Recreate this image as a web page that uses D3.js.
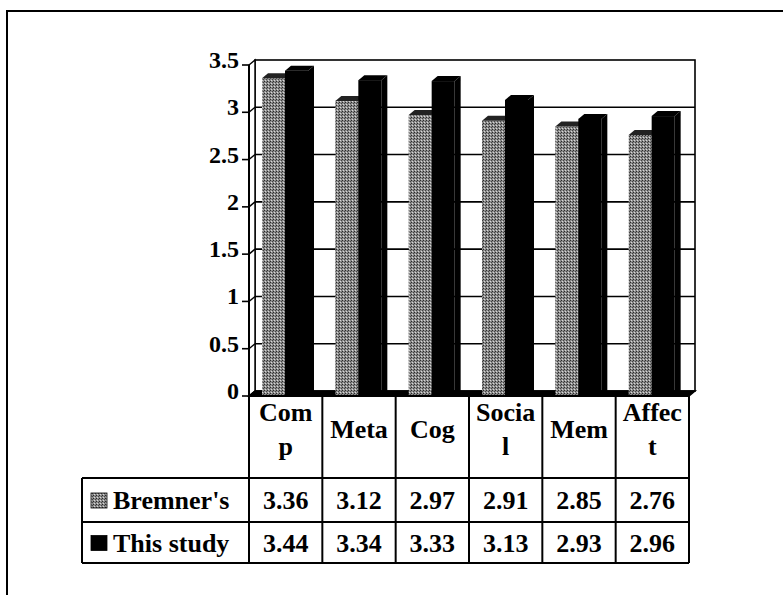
<!DOCTYPE html>
<html>
<head>
<meta charset="utf-8">
<script src="https://cdn.jsdelivr.net/npm/d3@7"></script>
<style>
  html, body { margin: 0; padding: 0; background: #fff; }
  svg { display: block; }
  text { font-family: "Liberation Serif", "Times New Roman", serif; font-weight: bold; fill: #000; }
</style>
</head>
<body>
<svg id="chart" width="783" height="595"></svg>
<script>
// Strategy groups (header cells wrap onto two lines where the column is narrow)
const categories = ["Comp", "Meta", "Cog", "Social", "Mem", "Affect"];
const categoryLines = [["Com", "p"], ["Meta"], ["Cog"], ["Socia", "l"], ["Mem"], ["Affec", "t"]];
const seriesNames = ["Bremner's", "This study"];
const bremnerValues = [3.36, 3.12, 2.97, 2.91, 2.85, 2.76];
const thisStudyValues = [3.44, 3.34, 3.33, 3.13, 2.93, 2.96];
const yTickValues = [0, 0.5, 1, 1.5, 2, 2.5, 3, 3.5];
const yTickLabels = ["0", "0.5", "1", "1.5", "2", "2.5", "3", "3.5"];

const series = [
  { name: seriesNames[0], values: bremnerValues },
  { name: seriesNames[1], values: thisStudyValues }
];

const svg = d3.select("#chart");

// halftone-like fill for the first series
const defs = svg.append("defs");
const pat = defs.append("pattern")
  .attr("id", "dither").attr("width", 3).attr("height", 3)
  .attr("patternUnits", "userSpaceOnUse");
pat.append("rect").attr("width", 3).attr("height", 3).attr("fill", "#8c8c8c");
pat.append("rect").attr("x", 0).attr("y", 0).attr("width", 1).attr("height", 1).attr("fill", "#2a2a2a");
pat.append("rect").attr("x", 2).attr("y", 1).attr("width", 1).attr("height", 1).attr("fill", "#444");
pat.append("rect").attr("x", 1).attr("y", 2).attr("width", 1).attr("height", 1).attr("fill", "#d8d8d8");

const fills = ["url(#dither)", "#000"];

// outer frame
svg.append("rect").attr("x", 7).attr("y", 11).attr("width", 800).attr("height", 620)
  .attr("fill", "none").attr("stroke", "#000").attr("stroke-width", 2);

// 3D plot geometry
const frontLeft = 249, frontRight = 689;
const depthX = 6, depthY = 5;
const y = d3.scaleLinear().domain([0, 3.5]).range([396, 65]);
const x = d3.scaleBand().domain(categories).range([frontLeft, frontRight]);
const xs = d3.scaleBand().domain(seriesNames).range([13, 59]);

const plot = svg.append("g");

// back wall
plot.append("rect")
  .attr("x", frontLeft + depthX).attr("y", y(3.5) - depthY)
  .attr("width", frontRight - frontLeft).attr("height", y(0) - y(3.5))
  .attr("fill", "#fff").attr("stroke", "#000").attr("stroke-width", 1.6);

// left side wall
plot.append("path")
  .attr("d", `M${frontLeft},${y(3.5)} L${frontLeft + depthX},${y(3.5) - depthY} L${frontLeft + depthX},${y(0) - depthY} L${frontLeft},${y(0)} Z`)
  .attr("fill", "#fff").attr("stroke", "#000").attr("stroke-width", 1.4);

// gridlines on back and side walls
const gridVals = yTickValues.filter(v => v > 0 && v < 3.5);
plot.selectAll("line.grid").data(gridVals).join("line")
  .attr("class", "grid")
  .attr("x1", frontLeft + depthX).attr("x2", frontRight + depthX)
  .attr("y1", d => y(d) - depthY).attr("y2", d => y(d) - depthY)
  .attr("stroke", "#000").attr("stroke-width", 1.6);
plot.selectAll("line.sidegrid").data(gridVals).join("line")
  .attr("class", "sidegrid")
  .attr("x1", frontLeft).attr("x2", frontLeft + depthX)
  .attr("y1", d => y(d)).attr("y2", d => y(d) - depthY)
  .attr("stroke", "#000").attr("stroke-width", 1.4);

// floor
plot.append("path")
  .attr("d", `M${frontLeft},${y(0)} L${frontRight},${y(0)} L${frontRight + depthX},${y(0) - depthY} L${frontLeft + depthX},${y(0) - depthY} Z`)
  .attr("fill", "#000").attr("stroke", "#000").attr("stroke-width", 1.5);

// bars: front face, right side face and top face
const bars = plot.selectAll("g.cat").data(categories).join("g").attr("class", "cat");
series.forEach((s, si) => {
  bars.each(function (cat, ci) {
    const g = d3.select(this);
    const v = s.values[ci];
    const x0 = x(cat) + xs(s.name);
    const w = xs.bandwidth();
    const yt = y(v), yb = y(0);
    // side
    g.append("path")
      .attr("d", `M${x0 + w},${yt} L${x0 + w + depthX},${yt - depthY} L${x0 + w + depthX},${yb - depthY} L${x0 + w},${yb} Z`)
      .attr("fill", si === 0 ? "#444" : "#000");
    // front
    g.append("rect").attr("x", x0).attr("y", yt).attr("width", w).attr("height", yb - yt)
      .attr("fill", fills[si]);
    // top
    g.append("path")
      .attr("d", `M${x0},${yt} L${x0 + depthX},${yt - depthY} L${x0 + w + depthX},${yt - depthY} L${x0 + w},${yt} Z`)
      .attr("fill", si === 0 ? "#222" : "#000");
  });
});

// value axis
const yAxis = svg.append("g");
yAxis.append("line").attr("x1", frontLeft).attr("x2", frontLeft)
  .attr("y1", y(3.5)).attr("y2", y(0)).attr("stroke", "#000").attr("stroke-width", 2);
yAxis.selectAll("line.tick").data(yTickValues).join("line")
  .attr("class", "tick")
  .attr("x1", frontLeft - 7).attr("x2", frontLeft)
  .attr("y1", d => y(d)).attr("y2", d => y(d))
  .attr("stroke", "#000").attr("stroke-width", 1.6);
yAxis.selectAll("text").data(yTickValues).join("text")
  .attr("x", frontLeft - 10).attr("y", d => y(d) + 3)
  .attr("text-anchor", "end")
  .attr("font-size", 24)
  .text((d, i) => yTickLabels[i]);

// data table
const tbl = svg.append("g");
const headerTop = 396, headerBottom = 478, row1Bottom = 522, row2Bottom = 563;
const rowBounds = [[headerBottom, row1Bottom], [row1Bottom, row2Bottom]];
const keyLeft = 82;
const lineAttr = sel => sel.attr("stroke", "#000").attr("stroke-width", 2);

// vertical column lines across header and value rows
const colEdges = categories.map(c => x(c)).concat([frontRight]);
tbl.selectAll("line.col").data(colEdges).join("line")
  .attr("class", "col")
  .attr("x1", d => d).attr("x2", d => d)
  .attr("y1", headerTop).attr("y2", row2Bottom).call(lineAttr);
// horizontal lines
[[frontLeft, frontRight, headerTop], [keyLeft, frontRight, headerBottom],
 [keyLeft, frontRight, row1Bottom], [keyLeft, frontRight, row2Bottom]].forEach(([a, b, yy]) => {
  tbl.append("line").attr("x1", a).attr("x2", b).attr("y1", yy).attr("y2", yy).call(lineAttr);
});
tbl.append("line").attr("x1", keyLeft).attr("x2", keyLeft)
  .attr("y1", headerBottom).attr("y2", row2Bottom).call(lineAttr);

// header labels
categories.forEach((c, i) => {
  const lines = categoryLines[i];
  const cx = x(c) + x.bandwidth() / 2;
  const baselines = lines.length === 1 ? [438] : [421, 455];
  lines.forEach((t, li) => {
    tbl.append("text").attr("x", cx).attr("y", baselines[li])
      .attr("text-anchor", "middle").attr("font-size", 26).text(t);
  });
});

// series rows: legend key, name and values
series.forEach((s, si) => {
  const [top, bot] = rowBounds[si];
  const mid = (top + bot) / 2;
  tbl.append("rect").attr("x", 91).attr("y", mid - 7).attr("width", 16).attr("height", 15)
    .attr("fill", fills[si]).attr("stroke", "#000").attr("stroke-width", 0.8);
  tbl.append("text").attr("x", 113).attr("y", mid + 9).attr("font-size", 26).text(s.name);
  s.values.forEach((v, ci) => {
    tbl.append("text")
      .attr("x", x(categories[ci]) + x.bandwidth() / 2).attr("y", mid + 9)
      .attr("text-anchor", "middle").attr("font-size", 26)
      .text(d3.format(".2f")(v));
  });
});
</script>
</body>
</html>
